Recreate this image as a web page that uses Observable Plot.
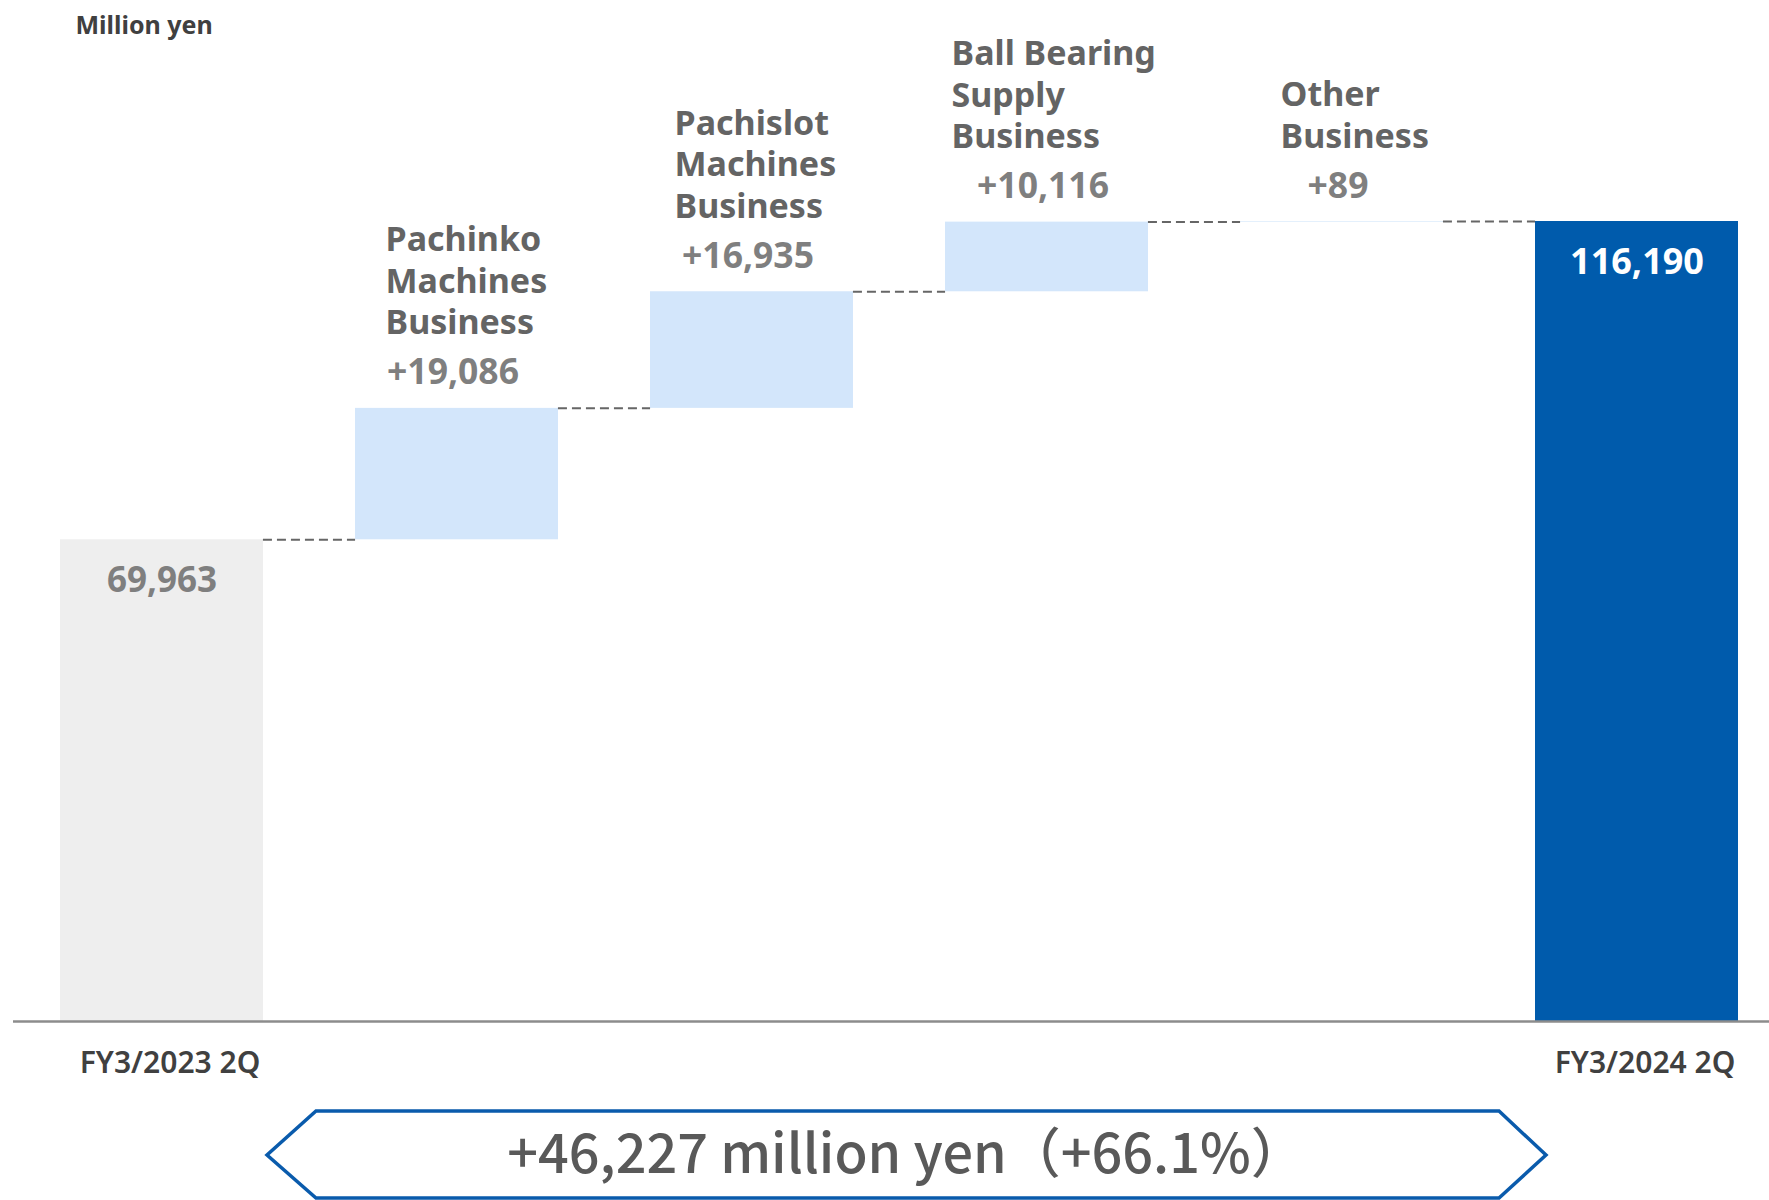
<!DOCTYPE html>
<html>
<head>
<meta charset="utf-8">
<script src="https://cdn.jsdelivr.net/npm/d3@7"></script>
<script src="https://cdn.jsdelivr.net/npm/@observablehq/plot@0.6"></script>
<style>
  html, body { margin: 0; padding: 0; background: #ffffff; }
  #wrap { position: relative; width: 1769px; height: 1200px; overflow: hidden; font-family: "Noto Sans", sans-serif; }
  #box { position: absolute; left: 0; top: 1105px; }
</style>
</head>
<body>
<div id="wrap">
  <div id="chart"></div>
  <svg id="box" width="1769" height="95">
    <polygon points="316,6 1499,6 1546,50 1499,93 316,93 267,50" fill="none" stroke="#0a5bac" stroke-width="3.5"/>
    <text x="906" y="68" text-anchor="middle" font-family="'Noto Sans CJK JP','Noto Sans',sans-serif" font-size="54" font-weight="500" fill="#595959">+46,227 million yen（+66.1%）</text>
  </svg>
</div>
<script>
// ---- data ----
const categories = [
  "FY3/2023 2Q",
  "Pachinko Machines Business",
  "Pachislot Machines Business",
  "Ball Bearing Supply Business",
  "Other Business",
  "FY3/2024 2Q"
];
const categoryLabels = [
  "",
  "Pachinko\nMachines\nBusiness",
  "Pachislot\nMachines\nBusiness",
  "Ball Bearing\nSupply\nBusiness",
  "Other\nBusiness",
  ""
];
const values = [69963, 19086, 16935, 10116, 89, 116190];
const kinds = ["total", "delta", "delta", "delta", "delta", "total"];
const unitLabel = "Million yen";

// ---- styles ----
const fills = ["#eeeeee", "#d3e6fb", "#d3e6fb", "#d3e6fb", "#d3e6fb", "#005bac"];
const labelShift = {
  "Pachinko Machines Business": 30,
  "Pachislot Machines Business": 24,
  "Ball Bearing Supply Business": 6,
  "Other Business": 40
};

// ---- build waterfall rows ----
let run = 0;
const rows = categories.map((c, i) => {
  let y1, y2;
  if (kinds[i] === "total") { y1 = 0; y2 = values[i]; run = values[i]; }
  else { y1 = run; y2 = run + values[i]; run = y2; }
  const text = kinds[i] === "total" ? d3.format(",")(values[i]) : "+" + d3.format(",")(values[i]);
  return {cat: c, label: categoryLabels[i], y1, y2, fill: fills[i], kind: kinds[i], text, i};
});
const connectors = rows.slice(0, -1).map((r, i) => ({from: categories[i], to: categories[i + 1], level: r.y2}));

const xRange = [59, 1739];
const padIn = 0.313;
const bw = d3.scaleBand().domain(categories).range(xRange).paddingInner(padIn).paddingOuter(0).bandwidth();

const font = "Noto Sans";
const deltaRows = rows.filter(r => r.kind === "delta");

const labelMarks = deltaRows.map(r => Plot.text([r], {
  x: "cat", y: "y2", text: "label",
  textAnchor: "start", lineAnchor: "bottom",
  dx: -bw / 2 + labelShift[r.cat], dy: -74,
  lineHeight: 1.22, fontSize: 34, fontWeight: 700, fill: "#646464"
}));

const chart = Plot.plot({
  width: 1769,
  height: 1095,
  marginTop: 0,
  marginBottom: 74,
  marginLeft: 13,
  marginRight: 0,
  style: {fontFamily: font, background: "#ffffff", overflow: "visible"},
  x: {type: "band", domain: categories, range: xRange, paddingInner: padIn, paddingOuter: 0, axis: null},
  y: {domain: [0, 116190], range: [1021, 221], axis: null},
  marks: [
    Plot.barY(rows, {x: "cat", y1: "y1", y2: "y2", fill: "fill"}),
    Plot.ruleY(connectors, {
      x1: "from", x2: "to", y: "level",
      insetLeft: bw, insetRight: bw,
      stroke: "#666666", strokeWidth: 2, strokeDasharray: "9,5"
    }),
    Plot.ruleY([0], {stroke: "#8c8c8c", strokeWidth: 2.5}),
    ...labelMarks,
    Plot.text(deltaRows, {
      x: "cat", y: "y2", text: "text", lineAnchor: "bottom",
      dx: -4, dy: -24, fontSize: 35.5, fontWeight: 700, fill: "#7f7f7f"
    }),
    Plot.text([rows[0]], {
      x: "cat", y: "y2", text: "text", lineAnchor: "bottom",
      dy: 52, fontSize: 35, fontWeight: 700, fill: "#7f7f7f"
    }),
    Plot.text([rows[5]], {
      x: "cat", y: "y2", text: "text", lineAnchor: "bottom",
      dy: 52, fontSize: 36, fontWeight: 700, fill: "#ffffff"
    }),
    Plot.text([rows[0], rows[5]], {
      x: "cat", y: 0, text: "cat", lineAnchor: "bottom",
      dx: 8, dy: 51, fontSize: 30, fontWeight: 600, fill: "#404040"
    }),
    Plot.text([unitLabel], {
      frameAnchor: "top-left", textAnchor: "start", lineAnchor: "bottom",
      dx: 62, dy: 33, fontSize: 25, fontWeight: 700, fill: "#404040"
    })
  ]
});
document.getElementById("chart").appendChild(chart);
</script>
</body>
</html>
